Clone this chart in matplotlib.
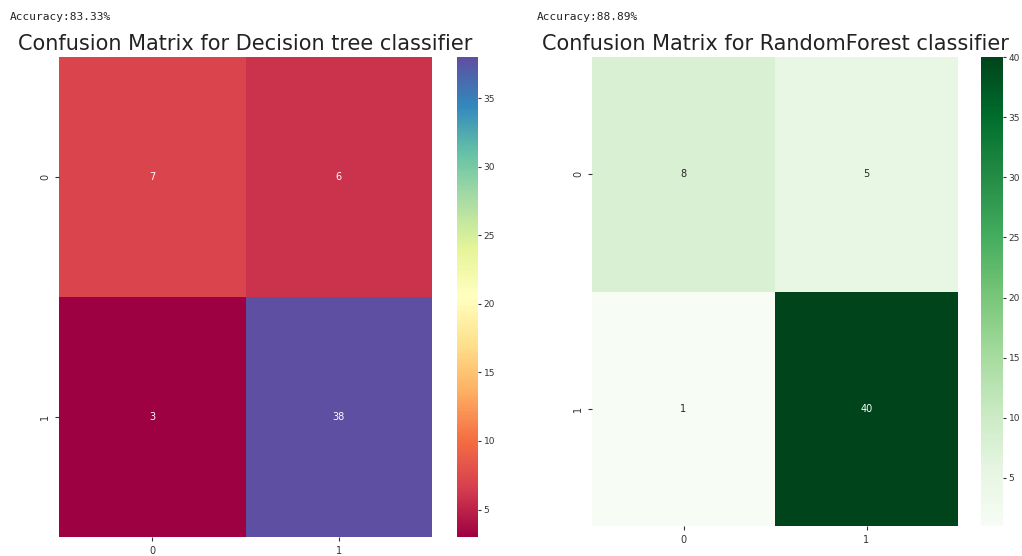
import matplotlib
matplotlib.use("Agg")
import matplotlib.pyplot as plt
import numpy as np
import seaborn as sns

labels = ["0", "1"]
cm_tree = [[7, 6], [3, 38]]
cm_forest = [[8, 5], [1, 40]]
acc_tree = 83.33
acc_forest = 88.89

fig = plt.figure(figsize=(10.22, 5.56), dpi=100)
W, H = 1022, 556


def box(x0, y0, x1, y1):
    return [x0 / W, 1 - y1 / H, (x1 - x0) / W, (y1 - y0) / H]


ax1 = fig.add_axes(box(59, 57, 432, 537))
cax1 = fig.add_axes(box(457, 57, 478, 537))
ax2 = fig.add_axes(box(592, 57, 958, 526))
cax2 = fig.add_axes(box(981, 57, 1003, 526))

sns.heatmap(np.array(cm_tree), annot=True, fmt="d", cmap="Spectral",
            ax=ax1, cbar_ax=cax1, xticklabels=labels, yticklabels=labels,
            annot_kws={"fontsize": 7})
sns.heatmap(np.array(cm_forest), annot=True, fmt="d", cmap="Greens",
            ax=ax2, cbar_ax=cax2, xticklabels=labels, yticklabels=labels,
            annot_kws={"fontsize": 7})

for ax, name in [(ax1, "Decision tree"), (ax2, "RandomForest")]:
    ax.set_title(f"Confusion Matrix for {name} classifier", fontsize=15,
                 color="#222222", pad=5)
    ax.tick_params(labelsize=7, colors="#333333", length=3)
    for t in ax.get_yticklabels():
        t.set_rotation(90)
        t.set_va("center")

for cax in (cax1, cax2):
    cax.tick_params(labelsize=6.5, colors="#333333", length=2.5, pad=1.5)
    for s in cax.spines.values():
        s.set_visible(False)

fig.text(10 / W, 1 - 17 / H, f"Accuracy:{acc_tree:.2f}%", family="DejaVu Sans Mono",
         fontsize=8, va="center", ha="left", color="#222222")
fig.text(537 / W, 1 - 17 / H, f"Accuracy:{acc_forest:.2f}%", family="DejaVu Sans Mono",
         fontsize=8, va="center", ha="left", color="#222222")

fig.savefig("out.png", dpi=100)
